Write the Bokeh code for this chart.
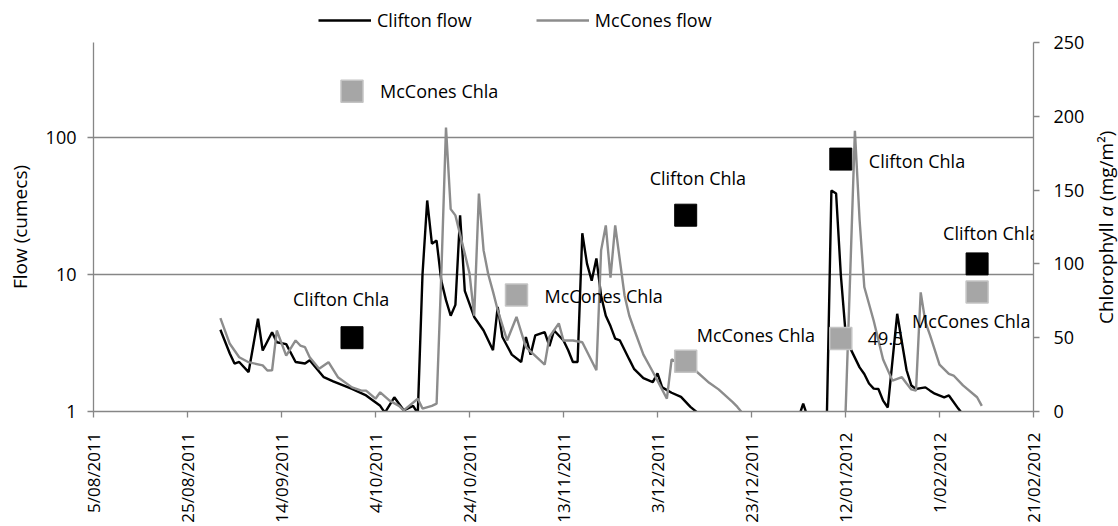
import math
import pandas as pd
from bokeh.plotting import figure
from bokeh.layouts import column, row
from bokeh.models import (Range1d, LinearAxis, LinearScale, FixedTicker, Legend, LegendItem,
                          ColumnDataSource, PrintfTickFormatter, LabelSet)
from bokeh.embed import file_html
from bokeh.resources import INLINE
from bokeh.core.properties import value

START = pd.Timestamp("2011-08-05")

tick_dates = ["2011-08-05", "2011-08-25", "2011-09-14", "2011-10-04", "2011-10-24",
              "2011-11-13", "2011-12-03", "2011-12-23", "2012-01-12", "2012-02-01",
              "2012-02-21"]
tick_labels = ["5/08/2011", "25/08/2011", "14/09/2011", "4/10/2011", "24/10/2011",
               "13/11/2011", "3/12/2011", "23/12/2011", "12/01/2012", "1/02/2012",
               "21/02/2012"]

clifton_dates = [
    "2011-09-01", "2011-09-03", "2011-09-04", "2011-09-05", "2011-09-07", "2011-09-09",
    "2011-09-10", "2011-09-12", "2011-09-13", "2011-09-15", "2011-09-17", "2011-09-19",
    "2011-09-20", "2011-09-23", "2011-09-25", "2011-09-29", "2011-10-02", "2011-10-05",
    "2011-10-06", "2011-10-08", "2011-10-10", "2011-10-12", "2011-10-13", "2011-10-14",
    "2011-10-15", "2011-10-16", "2011-10-17", "2011-10-18", "2011-10-19", "2011-10-20",
    "2011-10-21", "2011-10-22", "2011-10-23", "2011-10-25", "2011-10-27", "2011-10-29",
    "2011-10-30", "2011-10-31", "2011-11-02", "2011-11-04", "2011-11-05", "2011-11-06",
    "2011-11-07", "2011-11-09", "2011-11-10", "2011-11-11", "2011-11-13", "2011-11-14",
    "2011-11-15", "2011-11-16", "2011-11-17", "2011-11-18", "2011-11-19", "2011-11-20",
    "2011-11-21", "2011-11-22", "2011-11-23", "2011-11-24", "2011-11-25", "2011-11-27",
    "2011-11-28", "2011-11-30", "2011-12-02", "2011-12-03", "2011-12-04", "2011-12-06",
    "2011-12-08", "2011-12-10", "2011-12-12", "2011-12-20", "2011-12-30", "2012-01-02",
    "2012-01-03", "2012-01-04", "2012-01-08", "2012-01-09", "2012-01-10", "2012-01-11",
    "2012-01-12", "2012-01-13", "2012-01-15", "2012-01-16", "2012-01-17", "2012-01-18",
    "2012-01-19", "2012-01-20", "2012-01-21", "2012-01-23", "2012-01-24", "2012-01-25",
    "2012-01-26", "2012-01-27", "2012-01-28", "2012-01-29", "2012-01-30", "2012-01-31",
    "2012-02-02", "2012-02-03", "2012-02-05", "2012-02-06"]
clifton_flow = [
    3.95, 2.65, 2.24, 2.3, 1.94, 4.75,
    2.79, 3.79, 3.2, 3.1, 2.3, 2.24,
    2.37, 1.78, 1.66, 1.46, 1.31, 1.1,
    0.98, 1.27, 1.02, 1.1, 0.97, 10,
    34.7, 16.8, 17.7, 9, 6.5, 5.0,
    6, 27, 7.6, 4.9, 3.9, 2.8,
    5.8, 3.5, 2.6, 2.3, 3.5, 2.6,
    3.6, 3.8, 3.0, 3.9, 3.3, 2.8,
    2.3, 2.3, 20, 12, 9, 13.1,
    7, 5, 4.2, 3.4, 3.3, 2.4,
    2.05, 1.75, 1.64, 1.9, 1.5, 1.37,
    1.28, 1.08, 0.95, 0.8, 0.8, 0.9,
    1.14, 0.9, 0.8, 41, 39, 10,
    3.8, 2.9, 2.1, 1.88, 1.6, 1.47,
    1.46, 1.2, 1.07, 5.17, 3.2, 2.0,
    1.55, 1.46, 1.48, 1.5, 1.42, 1.35,
    1.27, 1.31, 1.05, 0.95]

mccones_dates = [
    "2011-09-01", "2011-09-03", "2011-09-05", "2011-09-07", "2011-09-10", "2011-09-11",
    "2011-09-12", "2011-09-13", "2011-09-15", "2011-09-17", "2011-09-18", "2011-09-19",
    "2011-09-20", "2011-09-22", "2011-09-24", "2011-09-26", "2011-09-29", "2011-10-01",
    "2011-10-02", "2011-10-04", "2011-10-05", "2011-10-07", "2011-10-09", "2011-10-10",
    "2011-10-13", "2011-10-14", "2011-10-16", "2011-10-17", "2011-10-18", "2011-10-19",
    "2011-10-20", "2011-10-21", "2011-10-23", "2011-10-24", "2011-10-25", "2011-10-26",
    "2011-10-27", "2011-10-28", "2011-10-29", "2011-10-30", "2011-11-01", "2011-11-03",
    "2011-11-05", "2011-11-09", "2011-11-10", "2011-11-12", "2011-11-13", "2011-11-15",
    "2011-11-17", "2011-11-20", "2011-11-21", "2011-11-22", "2011-11-23", "2011-11-24",
    "2011-11-26", "2011-11-27", "2011-11-28", "2011-11-30", "2011-12-02", "2011-12-05",
    "2011-12-06", "2011-12-08", "2011-12-11", "2011-12-14", "2011-12-16", "2011-12-19",
    "2011-12-20", "2011-12-21", "2011-12-23", "2012-01-05", "2012-01-12", "2012-01-13",
    "2012-01-14", "2012-01-15", "2012-01-16", "2012-01-18", "2012-01-20", "2012-01-22",
    "2012-01-24", "2012-01-25", "2012-01-26", "2012-01-27", "2012-01-28", "2012-01-29",
    "2012-01-30", "2012-02-01", "2012-02-03", "2012-02-04", "2012-02-06", "2012-02-09",
    "2012-02-10"]
mccones_flow = [
    4.8, 3.12, 2.49, 2.29, 2.17, 1.99,
    2.0, 3.9, 2.56, 3.3, 3.03, 2.95,
    2.49, 2.05, 2.29, 1.78, 1.5, 1.42,
    1.42, 1.24, 1.38, 1.2, 1.1, 1.02,
    1.24, 1.05, 1.1, 1.14, 10, 118,
    30, 27, 14.2, 10.2, 5, 39,
    15, 10, 7.5, 5.5, 3.3, 4.9,
    2.95, 2.2, 3.5, 4.4, 3.3, 3.3,
    3.2, 2.0, 15, 22.8, 9.5, 22.8,
    7, 5, 4.0, 2.6, 1.95, 1.24,
    2.4, 2.2, 2.0, 1.62, 1.45, 1.17,
    1.08, 0.98, 0.85, 0.8, 0.95, 10,
    112, 25, 8.1, 4.6, 2.4, 1.68,
    1.78, 1.6, 1.45, 1.42, 7.4, 4.5,
    3.6, 2.2, 1.88, 1.83, 1.55, 1.27,
    1.1]

clifton_chla_dates = ["2011-09-29", "2011-12-09", "2012-01-11", "2012-02-09"]
clifton_chla = [50, 133, 171, 100]
clifton_chla_text = ["Clifton Chla", "Clifton Chla", "Clifton Chla", "Clifton Chla"]

mccones_chla_dates = ["2011-09-29", "2011-11-03", "2011-12-09", "2012-01-11", "2012-02-09"]
mccones_chla = [217, 79, 34, 49.5, 81]
mccones_chla_text = ["McCones Chla", "McCones Chla", "McCones Chla", "49.5", "McCones Chla"]

right_title_parts = ["Chlorophyll", "a", "(mg/m²)"]
left_title = "Flow (cumecs)"


def to_days(dates):
    return [(pd.Timestamp(d) - START).days for d in dates]


FONT = "Open Sans"
FS = "18px"
AX = "#868686"
BLACK_LINE = dict(line_color="#000000", line_width=2.4)
GREY_LINE = dict(line_color="#8c8c8c", line_width=2.4)
TXT = dict(text_font=value(FONT), text_font_size=FS, text_color="#000000")

LEG_H = 32
MAIN_H = 526 - LEG_H
TOP_B = 42 - LEG_H

# ---------------- main chart ----------------
chl_range = Range1d(0, 250)
p = figure(width=1090, height=MAIN_H, y_axis_type="log",
           x_range=Range1d(0, 200), y_range=Range1d(1, 10 ** (369 / 137)),
           output_backend="svg", toolbar_location=None,
           min_border_left=93, min_border_right=57, min_border_top=TOP_B,
           min_border_bottom=115)
p.outline_line_color = None
p.background_fill_color = "white"
p.border_fill_color = "white"

p.extra_y_ranges = {"chl": chl_range}
p.extra_y_scales = {"chl": LinearScale()}

p.xgrid.visible = False
p.ygrid.ticker = FixedTicker(ticks=[10, 100])
p.ygrid.grid_line_color = AX
p.ygrid.grid_line_width = 1.3

tick_days = to_days(tick_dates)
p.xaxis.ticker = FixedTicker(ticks=tick_days)
p.xaxis.major_label_overrides = {d: lab for d, lab in zip(tick_days, tick_labels)}
p.xaxis.major_label_orientation = math.pi / 2

p.yaxis.ticker = FixedTicker(ticks=[1, 10, 100])
p.yaxis.formatter = PrintfTickFormatter(format="%d")
p.yaxis.axis_label = left_title

right = LinearAxis(y_range_name="chl", ticker=FixedTicker(ticks=[0, 50, 100, 150, 200, 250]))
p.add_layout(right, "right")

for ax in [p.xaxis[0], p.yaxis[0], right]:
    ax.axis_line_color = AX
    ax.axis_line_width = 1.3
    ax.major_tick_line_color = AX
    ax.major_tick_line_width = 1.3
    ax.major_tick_out = 6
    ax.major_tick_in = 0
    ax.minor_tick_line_color = None
    ax.major_label_text_font = FONT
    ax.major_label_text_font_size = FS
    ax.major_label_text_color = "#000000"
    ax.axis_label_text_font = FONT
    ax.axis_label_text_font_size = "19px"
    ax.axis_label_text_font_style = "normal"
    ax.axis_label_text_color = "#000000"

p.xaxis.major_label_text_font_size = "17px"
p.xaxis.major_label_standoff = 15
p.yaxis.major_label_standoff = 11
p.yaxis.axis_label_standoff = 10
right.major_label_standoff = 14

r_cl = p.line(to_days(clifton_dates), clifton_flow, **BLACK_LINE)
r_mc = p.line(to_days(mccones_dates), mccones_flow, **GREY_LINE)

cl_x = to_days(clifton_chla_dates)
mc_x = to_days(mccones_chla_dates)
p.scatter(mc_x, mccones_chla, y_range_name="chl", marker="square", size=22,
          fill_color="#a6a6a6", line_color="#c4c4c4", line_width=1.5)
p.scatter(cl_x, clifton_chla, y_range_name="chl", marker="square", size=22,
          fill_color="#000000", line_color="#000000", line_width=1)

# point labels (screen offsets from each marker; y_offset measured upwards)
cl_dx, cl_dy = [-59, -36, 28, -34], [39, 37, -2, 31]
mc_dx, mc_dy = [28, 28, 11, 27, -65], [0, -1, 26, 0, -29]
lab_cl = ColumnDataSource(dict(x=cl_x, y=clifton_chla, t=clifton_chla_text, dx=cl_dx, dy=cl_dy))
lab_mc = ColumnDataSource(dict(x=mc_x, y=mccones_chla, t=mccones_chla_text, dx=mc_dx, dy=mc_dy))
for src in (lab_cl, lab_mc):
    p.add_layout(LabelSet(x="x", y="y", text="t", source=src, y_range_name="chl",
                          x_offset="dx", y_offset="dy", text_align="left",
                          text_baseline="middle", **TXT))

# ---------------- right-axis title strip ----------------
tfig = figure(width=28, height=MAIN_H, x_range=Range1d(0, 1), y_range=chl_range,
              output_backend="svg", toolbar_location=None,
              x_axis_location=None, y_axis_location=None,
              min_border_left=0, min_border_right=0, min_border_top=TOP_B, min_border_bottom=115)
tfig.outline_line_color = None
tfig.grid.visible = False
mid = (chl_range.start + chl_range.end) / 2
part_offsets = [97, -10.3, -26.1]
part_styles = ["normal", "italic", "normal"]
for part, off, style in zip(right_title_parts, part_offsets, part_styles):
    tfig.text(x=[0.57], y=[mid], text=[part], angle=math.pi / 2, y_offset=off,
              text_font_style=style, text_align="left", text_baseline="middle",
              text_font=value(FONT), text_font_size="19px", text_color="#000000")

# ---------------- legend strip ----------------
lfig = figure(width=1118, height=LEG_H, x_range=Range1d(0, 1), y_range=Range1d(0, 1),
              output_backend="svg", toolbar_location=None,
              x_axis_location=None, y_axis_location=None, min_border=0)
lfig.outline_line_color = None
lfig.grid.visible = False
l_cl = lfig.line(x=[5, 6], y=[5, 6], **BLACK_LINE)
l_mc = lfig.line(x=[5, 6], y=[5, 6], **GREY_LINE)
legend = Legend(items=[LegendItem(label="Clifton flow", renderers=[l_cl]),
                       LegendItem(label="McCones flow", renderers=[l_mc])],
                orientation="horizontal", location=(318, 0),
                glyph_width=53, glyph_height=14, label_height=14, label_standoff=6, spacing=64,
                padding=0, margin=0, border_line_color=None, background_fill_alpha=0,
                label_text_font=FONT, label_text_font_size=FS, label_text_color="#000000")
lfig.add_layout(legend, "center")

layout = column(lfig, row(p, tfig, spacing=0), spacing=0)
open("out.html", "w").write(file_html(layout, INLINE))
